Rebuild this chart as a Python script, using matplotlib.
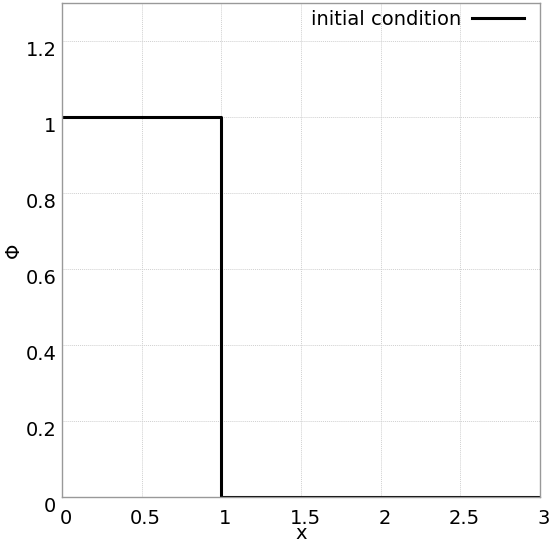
import matplotlib.pyplot as plt
import matplotlib.transforms as mtransforms

# step initial condition
x = [0.0, 1.0, 1.0, 3.0]
phi = [1.0, 1.0, 0.0, 0.0]

xticks = [0, 0.5, 1, 1.5, 2, 2.5, 3]
xticklabels = ["0", "0.5", "1", "1.5", "2", "2.5", "3"]
yticks = [0, 0.2, 0.4, 0.6, 0.8, 1.0, 1.2]
yticklabels = ["0", "0.2", "0.4", "0.6", "0.8", "1", "1.2"]

fig = plt.figure(figsize=(5.49, 5.44), dpi=100)
ax = fig.add_axes([0.113, 0.0864, 0.8707, 0.908])

ax.plot(x, phi, color="black", linewidth=2.2, label="initial condition")

ax.set_xlim(0, 3)
ax.set_ylim(0, 1.3)
ax.set_xticks(xticks)
ax.set_xticklabels(xticklabels)
ax.set_yticks(yticks)
ax.set_yticklabels(yticklabels, va="top")
ax.tick_params(axis="both", length=0, labelsize=14)
ax.tick_params(axis="x", pad=9)
ax.tick_params(axis="y", pad=4)

# labels in the reference sit a few px right of the ticks
shift = mtransforms.ScaledTranslation(0.04, 0, fig.dpi_scale_trans)
for lab in ax.get_xticklabels():
    lab.set_transform(lab.get_transform() + shift)

ax.grid(True, color="#d0d0d0", linestyle=(0, (1, 1)), linewidth=0.7)
for s in ax.spines.values():
    s.set_color("#999999")
    s.set_linewidth(1)

ax.set_xlabel("x", fontsize=14, va="top")
ax.xaxis.set_label_coords(0.5, -0.055)
ax.set_ylabel("Φ", fontsize=14)
ax.yaxis.set_label_coords(-0.082, 0.5)

ax.legend(loc="center right", bbox_to_anchor=(0.9665, 0.9676), frameon=False,
          markerfirst=False, fontsize=14, handlelength=2.7, handletextpad=0.55,
          borderaxespad=0.0, borderpad=0.0)

plt.savefig("out.png", dpi=100)
